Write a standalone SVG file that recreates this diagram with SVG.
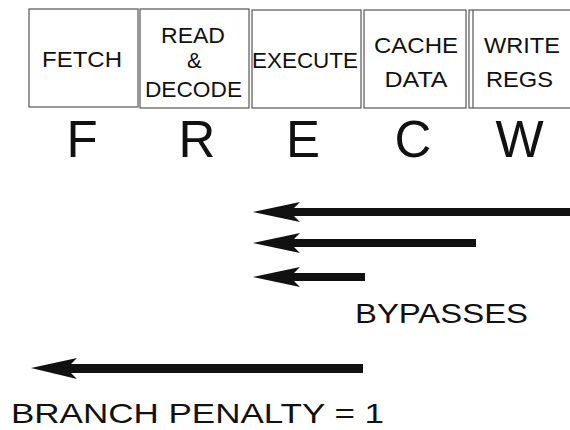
<svg xmlns="http://www.w3.org/2000/svg" width="570" height="430" viewBox="0 0 570 430">
<style>
.box{fill:#fff;stroke:#555;stroke-width:1.2}
.bt{font-family:"Liberation Sans",Arial,sans-serif;font-size:22px;fill:#111}
.big{font-family:"Liberation Sans",Arial,sans-serif;font-size:51px;text-anchor:middle;fill:#111}
.lbl{font-family:"Liberation Sans",Arial,sans-serif;font-size:28px;fill:#111}
.arr{fill:#111}
</style>
<rect width="570" height="430" fill="#fff"/>
<g id="fetch"><rect class="box" x="29" y="9" width="109" height="98"/><text class="bt" x="42" y="67" textLength="80" lengthAdjust="spacingAndGlyphs">FETCH</text></g>
<g id="read"><rect class="box" x="140" y="9" width="109" height="99"/><text class="bt" x="161" y="43" textLength="64" lengthAdjust="spacingAndGlyphs">READ</text><text class="bt" x="187" y="68">&amp;</text><text class="bt" x="145" y="97" textLength="97" lengthAdjust="spacingAndGlyphs">DECODE</text></g>
<g id="execute"><rect class="box" x="252" y="10" width="109" height="98"/><text class="bt" x="252" y="68" textLength="106" lengthAdjust="spacingAndGlyphs">EXECUTE</text></g>
<g id="cache"><rect class="box" x="364" y="10" width="102" height="98"/><text class="bt" x="374" y="53" textLength="84" lengthAdjust="spacingAndGlyphs">CACHE</text><text class="bt" x="384.5" y="87" textLength="63" lengthAdjust="spacingAndGlyphs">DATA</text></g>
<g id="write"><rect class="box" x="469" y="10" width="110" height="98"/><line x1="473" y1="10" x2="473" y2="108" stroke="#555" stroke-width="1.2"/><text class="bt" x="484" y="53" textLength="76" lengthAdjust="spacingAndGlyphs">WRITE</text><text class="bt" x="486" y="87" textLength="67" lengthAdjust="spacingAndGlyphs">REGS</text></g>
<g id="letters">
<text class="big" x="82" y="157">F</text>
<text class="big" x="197" y="157">R</text>
<text class="big" x="303" y="157">E</text>
<text class="big" x="413" y="157">C</text>
<text class="big" x="519.5" y="157">W</text>
</g>
<g id="connectors" class="arr">
<polygon points="253,212 300,202 294,208 572,208 572,216 294,216 300,222"/>
<polygon points="253,243 300,233 294,239 476,239 476,247 294,247 300,253"/>
<polygon points="253,277 300,267 294,273 365,273 365,281 294,281 300,287"/>
<polygon points="31,368 77,358 71,364 363,364 363,373 71,373 77,379"/>
</g>
<text class="lbl" x="355" y="323" textLength="173" lengthAdjust="spacingAndGlyphs">BYPASSES</text>
<text class="lbl" x="11" y="423" textLength="373" lengthAdjust="spacingAndGlyphs">BRANCH PENALTY = 1</text>
</svg>
